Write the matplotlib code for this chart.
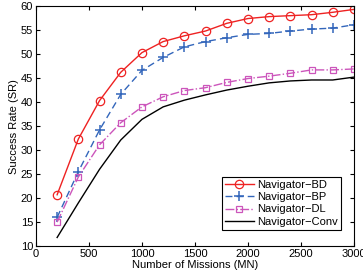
import matplotlib
matplotlib.use('Agg')
from matplotlib import pyplot as plt

plt.rcParams['font.family'] = ['Liberation Sans', 'DejaVu Sans']

# dados
missoes = [200, 400, 600, 800, 1000, 1200, 1400, 1600, 1800, 2000, 2200, 2400, 2600, 2800, 3000]
bd = [20.7, 32.3, 40.3, 46.2, 50.3, 52.6, 53.8, 54.8, 56.4, 57.4, 57.8, 58.0, 58.2, 58.7, 59.3]
bp = [16.0, 25.5, 34.2, 41.6, 46.6, 49.3, 51.5, 52.6, 53.4, 54.1, 54.3, 54.8, 55.2, 55.4, 56.1]
dl = [15.0, 24.4, 31.1, 35.7, 39.0, 41.1, 42.4, 43.0, 44.1, 44.9, 45.4, 46.0, 46.7, 46.7, 46.9]
conv = [11.8, 19.0, 26.0, 32.1, 36.4, 39.0, 40.4, 41.5, 42.5, 43.3, 44.0, 44.4, 44.6, 44.6, 45.2]

fig = plt.figure(figsize=(3.63, 2.75), dpi=100)
ax = fig.add_axes([0.099, 0.105, 0.876, 0.873])

ax.plot(missoes, bd, '-o', color='#ee2222', lw=1, ms=6, mfc='none', mew=0.9, label='Navigator\u2212BD')
ax.plot(missoes, bp, '+', ls=(0, (5, 3)), color='#3366bb', lw=1, ms=7, mew=1.1, label='Navigator\u2212BP')
ax.plot(missoes, dl, '-.s', color='#cc55bb', lw=1, ms=5, mfc='none', mew=0.9, label='Navigator\u2212DL')
ax.plot(missoes, conv, '-', color='black', lw=1, label='Navigator\u2212Conv')

ax.set_xlim(0, 3000)
ax.set_ylim(10, 60)
ax.set_xticks(range(0, 3001, 500))
ax.set_yticks(range(10, 61, 5))
ax.tick_params(direction='in', top=True, right=True, labelsize=8, length=3, pad=2)
ax.set_xlabel('Number of Missions (MN)', fontsize=8, labelpad=1)
ax.set_ylabel('Success Rate (SR)', fontsize=8, labelpad=1)

leg = ax.legend(loc='lower right', bbox_to_anchor=(0.96, 0.067), fontsize=8, fancybox=False,
                framealpha=1, edgecolor='black', borderpad=0.3, labelspacing=0.2,
                handlelength=2.6, handletextpad=0.3, borderaxespad=0)
leg.get_frame().set_linewidth(0.8)

plt.savefig('out.png', dpi=100)
